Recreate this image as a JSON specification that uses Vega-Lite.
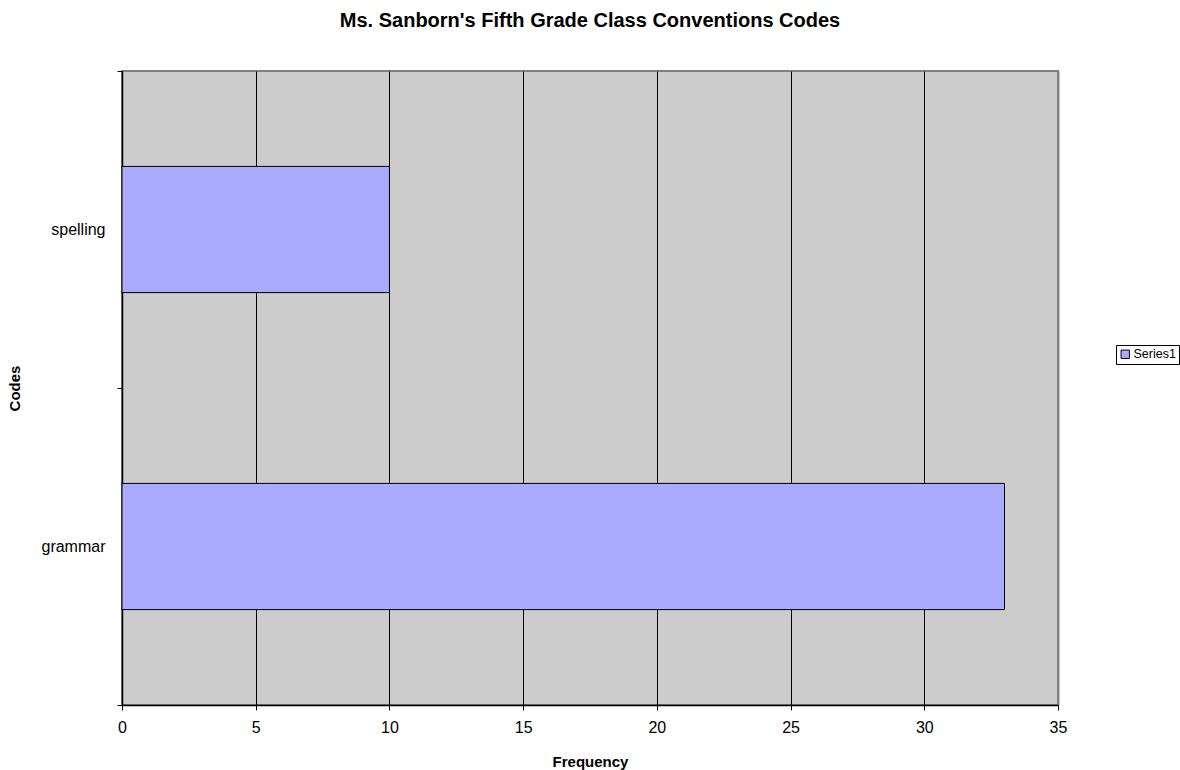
{
  "$schema": "https://vega.github.io/schema/vega-lite/v6.json",
  "width": 936,
  "height": 634,
  "autosize": {"type": "none"},
  "padding": {"left": 122, "top": 71, "right": 122, "bottom": 65},
  "background": "white",
  "title": {
    "text": "Ms. Sanborn's Fifth Grade Class Conventions Codes",
    "font": "Liberation Sans",
    "fontSize": 20,
    "fontWeight": "bold",
    "color": "black",
    "anchor": "middle",
    "offset": 32
  },
  "config": {
    "view": {"fill": "#CCCCCC", "stroke": "#808080", "strokeWidth": 2},
    "font": "Liberation Sans"
  },
  "data": {
    "values": [
      {"code": "spelling", "frequency": 10, "series": "Series1"},
      {"code": "grammar", "frequency": 33, "series": "Series1"}
    ]
  },
  "mark": {"type": "bar", "height": {"band": 0.398}, "stroke": "black", "strokeWidth": 1},
  "encoding": {
    "y": {
      "field": "code",
      "type": "nominal",
      "sort": ["spelling", "grammar"],
      "scale": {"paddingInner": 0, "paddingOuter": 0},
      "axis": {
        "title": "Codes",
        "titleFont": "Liberation Sans",
        "titleFontSize": 15,
        "titleFontWeight": "bold",
        "titleColor": "black",
        "titlePadding": 18,
        "labelFont": "Liberation Sans",
        "labelFontSize": 16,
        "labelColor": "black",
        "labelPadding": 12,
        "domainColor": "black",
        "domainWidth": 1.5,
        "tickColor": "black",
        "tickSize": 5,
        "tickBand": "extent",
        "grid": false
      }
    },
    "x": {
      "field": "frequency",
      "type": "quantitative",
      "scale": {"domain": [0, 35], "nice": false},
      "axis": {
        "title": "Frequency",
        "titleFont": "Liberation Sans",
        "titleFontSize": 15,
        "titleFontWeight": "bold",
        "titleColor": "black",
        "titlePadding": 19,
        "values": [0, 5, 10, 15, 20, 25, 30, 35],
        "labelFont": "Liberation Sans",
        "labelFontSize": 16,
        "labelColor": "black",
        "labelPadding": 9,
        "labelFlush": false,
        "domainColor": "black",
        "domainWidth": 1.5,
        "tickColor": "black",
        "tickSize": 5,
        "grid": true,
        "gridColor": {"condition": {"test": "datum.value === 35", "value": "#808080"}, "value": "black"},
        "gridWidth": {"condition": {"test": "datum.value === 35", "value": 2}, "value": 1},
        "gridOpacity": 1
      }
    },
    "color": {
      "field": "series",
      "type": "nominal",
      "scale": {"range": ["#AAAAFF"]},
      "legend": {
        "title": null,
        "orient": "none",
        "legendX": 994,
        "legendY": 274,
        "strokeColor": "black",
        "fillColor": "white",
        "padding": 3,
        "symbolType": "square",
        "symbolSize": 70,
        "symbolStrokeColor": "black",
        "symbolStrokeWidth": 1,
        "labelFont": "Liberation Sans",
        "labelFontSize": 12.5,
        "labelColor": "black",
        "labelOffset": 2
      }
    }
  }
}
